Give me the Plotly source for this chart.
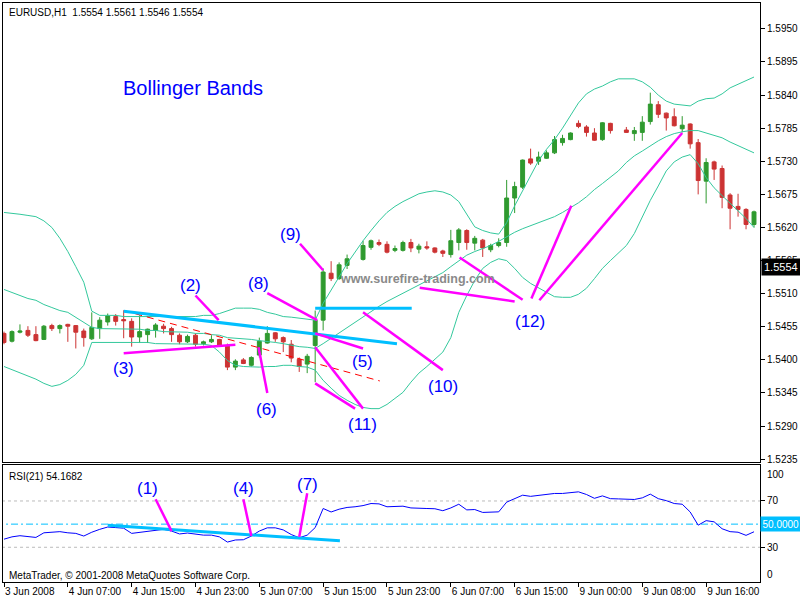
import plotly.graph_objects as go

# ---------------- data ----------------
bar_index = list(range(95))

tick_pos = [0, 8, 16, 24, 32, 40, 48, 56, 64, 72, 80, 88]
tick_text = ["3 Jun 2008", "4 Jun 07:00", "4 Jun 15:00", "4 Jun 23:00", "5 Jun 07:00",
             "5 Jun 15:00", "5 Jun 23:00", "6 Jun 07:00", "6 Jun 15:00", "9 Jun 00:00",
             "9 Jun 08:00", "9 Jun 16:00"]

price_ticks = [1.5235, 1.5290, 1.5345, 1.5400, 1.5455, 1.5510, 1.5565, 1.5620,
               1.5675, 1.5730, 1.5785, 1.5840, 1.5895, 1.5950]
price_tick_text = ["%.4f" % v for v in price_ticks]

N = None
opens = [1.5444, 1.5431, 1.5446, 1.5449, 1.5442, 1.5434, 1.5457, 1.5452, 1.5459, 1.5457,
         1.5448, 1.5435, 1.5452, 1.5463, 1.5472, 1.5467, 1.5464, 1.5438, 1.5442, 1.5449,
         1.5456, 1.5452, 1.5441, 1.5430, 1.5441, 1.5427, 1.5430, 1.5434, 1.5424, 1.5388,
         1.5400, 1.5391, 1.5408, 1.5428, 1.5445, 1.5437, 1.5426, 1.5401, 1.5393, 1.5424,
         1.5466, 1.5544, 1.5535, 1.5557, N, 1.5567, 1.5587, 1.5595, 1.5592, 1.5582,
         1.5582, 1.5595, 1.5584, 1.5588, 1.5586, 1.5581, 1.5575, 1.5595, 1.5615, 1.5594,
         1.5599, 1.5583, 1.5590, 1.5595, 1.5669, 1.5687, 1.5734, 1.5730, 1.5735, 1.5744,
         1.5761, 1.5766, 1.5793, 1.5787, 1.5777, 1.5766, 1.5793, N, 1.5782, 1.5776,
         1.5778, 1.5796, 1.5824, 1.5810, 1.5804, 1.5784, 1.5792, 1.5761, 1.5697, 1.5729,
         1.5718, 1.5674, 1.5655, 1.5650, 1.5625]
highs = [1.5447, 1.5449, 1.5459, 1.5456, 1.5456, 1.5458, 1.5460, 1.5459, 1.5460, 1.5458,
         1.5452, 1.5479, 1.5471, 1.5477, 1.5476, 1.5482, 1.5469, 1.5474, 1.5452, 1.5461,
         1.5460, 1.5455, 1.5444, 1.5442, 1.5444, 1.5432, 1.5441, 1.5435, 1.5427, 1.5401,
         1.5403, 1.5406, 1.5437, 1.5456, 1.5446, 1.5439, 1.5433, 1.5404, 1.5410, 1.5482,
         1.5552, 1.5564, 1.5562, 1.5575, N, 1.5598, 1.5600, 1.5600, 1.5597, 1.5590,
         1.5598, 1.5601, 1.5593, 1.5597, 1.5587, 1.5583, 1.5616, 1.5619, 1.5617, 1.5606,
         1.5601, 1.5593, 1.5602, 1.5699, 1.5696, 1.5733, 1.5751, 1.5746, 1.5748, 1.5772,
         1.5774, 1.5778, 1.5798, 1.5790, 1.5785, 1.5795, 1.5794, N, 1.5787, 1.5787,
         1.5805, 1.5844, 1.5830, 1.5811, 1.5818, 1.5805, 1.5793, 1.5767, 1.5735, 1.5731,
         1.5723, 1.5677, 1.5676, 1.5652, 1.5648]
lows = [1.5426, 1.5429, 1.5444, 1.5438, 1.5431, 1.5433, 1.5448, 1.5444, 1.5430, 1.5419,
        1.5422, 1.5433, 1.5435, 1.5457, 1.5457, 1.5436, 1.5422, 1.5428, 1.5428, 1.5437,
        1.5444, 1.5430, 1.5426, 1.5428, 1.5422, 1.5424, 1.5428, 1.5422, 1.5383, 1.5383,
        1.5393, 1.5389, 1.5404, 1.5427, 1.5430, 1.5413, 1.5396, 1.5380, 1.5378, 1.5363,
        1.5449, 1.5531, 1.5533, 1.5551, N, 1.5565, 1.5583, 1.5589, 1.5577, 1.5579,
        1.5580, 1.5579, 1.5577, 1.5583, 1.5577, 1.5571, 1.5570, 1.5582, 1.5583, 1.5582,
        1.5571, 1.5579, 1.5587, 1.5588, 1.5644, 1.5684, 1.5724, 1.5724, 1.5734, 1.5742,
        1.5756, 1.5765, 1.5785, 1.5771, 1.5764, 1.5764, 1.5776, N, 1.5777, 1.5764,
        1.5764, 1.5791, 1.5802, 1.5781, 1.5788, 1.5778, 1.5751, 1.5675, 1.5660, 1.5699,
        1.5652, 1.5617, 1.5638, 1.5617, 1.5620]
closes = [1.5429, 1.5447, 1.5448, 1.5441, 1.5432, 1.5456, 1.5452, 1.5457, 1.5456, 1.5446,
          1.5437, 1.5454, 1.5466, 1.5473, 1.5464, 1.5465, 1.5438, 1.5447, 1.5451, 1.5458,
          1.5452, 1.5442, 1.5430, 1.5439, 1.5426, 1.5430, 1.5434, 1.5424, 1.5388, 1.5398,
          1.5394, 1.5404, 1.5431, 1.5444, 1.5435, 1.5430, 1.5403, 1.5389, 1.5406, 1.5466,
          1.5546, 1.5535, 1.5558, 1.5568, N, 1.5590, 1.5598, 1.5592, 1.5579, 1.5585,
          1.5595, 1.5586, 1.5589, 1.5586, 1.5579, 1.5577, 1.5598, 1.5616, 1.5595, 1.5602,
          1.5586, 1.5590, 1.5595, 1.5669, 1.5688, 1.5732, 1.5727, 1.5737, 1.5744, 1.5766,
          1.5768, 1.5777, 1.5788, 1.5778, 1.5765, 1.5794, 1.5781, N, 1.5778, 1.5781,
          1.5795, 1.5825, 1.5808, 1.5802, 1.5789, 1.5790, 1.5759, 1.5698, 1.5728, 1.5717,
          1.5670, 1.5652, 1.5650, 1.5625, 1.5646]

bb_upper = [1.5645, 1.5644, 1.5642, 1.5640, 1.5638, 1.5631, 1.5620, 1.5602, 1.5580, 1.5555,
            1.5529, 1.5481, 1.5474, 1.5474, 1.5474, 1.5472, 1.5472, 1.5472, 1.5472, 1.5472,
            1.5472, 1.5472, 1.5472, 1.5472, 1.5472, 1.5474, 1.5474, 1.5477, 1.5482, 1.5486,
            1.5486, 1.5486, 1.5484, 1.5479, 1.5476, 1.5472, 1.5471, 1.5469, 1.5467, 1.5466,
            1.5494, 1.5515, 1.5538, 1.5560, 1.5580, 1.5598, 1.5615, 1.5631, 1.5645, 1.5655,
            1.5663, 1.5669, 1.5676, 1.5679, 1.5681, 1.5679, 1.5674, 1.5663, 1.5643, 1.5621,
            1.5615, 1.5611, 1.5609, 1.5628, 1.5656, 1.5681, 1.5706, 1.5731, 1.5750, 1.5766,
            1.5785, 1.5805, 1.5827, 1.5842, 1.5850, 1.5855, 1.5862, 1.5867, 1.5867, 1.5867,
            1.5862, 1.5853, 1.5840, 1.5830, 1.5825, 1.5824, 1.5822, 1.5830, 1.5834, 1.5835,
            1.5842, 1.5852, 1.5858, 1.5865, 1.5870]
bb_middle = [1.5517, 1.5512, 1.5507, 1.5502, 1.5499, 1.5492, 1.5487, 1.5482, 1.5479, 1.5471,
             1.5462, 1.5454, 1.5452, 1.5452, 1.5452, 1.5451, 1.5451, 1.5451, 1.5449, 1.5449,
             1.5447, 1.5447, 1.5446, 1.5446, 1.5444, 1.5444, 1.5442, 1.5441, 1.5437, 1.5436,
             1.5436, 1.5434, 1.5432, 1.5431, 1.5429, 1.5427, 1.5424, 1.5422, 1.5421, 1.5419,
             1.5427, 1.5436, 1.5444, 1.5454, 1.5462, 1.5471, 1.5481, 1.5489, 1.5497, 1.5504,
             1.5510, 1.5517, 1.5524, 1.5532, 1.5539, 1.5545, 1.5555, 1.5565, 1.5574, 1.5580,
             1.5585, 1.5590, 1.5597, 1.5605, 1.5612, 1.5618, 1.5623, 1.5628, 1.5633, 1.5638,
             1.5645, 1.5653, 1.5661, 1.5671, 1.5683, 1.5693, 1.5703, 1.5714, 1.5728, 1.5739,
             1.5747, 1.5756, 1.5764, 1.5771, 1.5776, 1.5779, 1.5781, 1.5781, 1.5777, 1.5774,
             1.5769, 1.5762, 1.5756, 1.5749, 1.5744]
bb_lower = [1.5389, 1.5384, 1.5379, 1.5374, 1.5368, 1.5361, 1.5356, 1.5359, 1.5366, 1.5376,
            1.5391, 1.5429, 1.5429, 1.5429, 1.5429, 1.5429, 1.5429, 1.5429, 1.5429, 1.5427,
            1.5427, 1.5427, 1.5427, 1.5427, 1.5426, 1.5426, 1.5424, 1.5413, 1.5399, 1.5391,
            1.5389, 1.5388, 1.5388, 1.5389, 1.5389, 1.5391, 1.5391, 1.5389, 1.5388, 1.5383,
            1.5366, 1.5353, 1.5341, 1.5333, 1.5326, 1.5321, 1.5319, 1.5319, 1.5326, 1.5336,
            1.5346, 1.5363, 1.5378, 1.5389, 1.5401, 1.5413, 1.5437, 1.5479, 1.5507, 1.5532,
            1.5552, 1.5562, 1.5568, 1.5565, 1.5552, 1.5537, 1.5527, 1.5520, 1.5512, 1.5505,
            1.5504, 1.5504, 1.5509, 1.5519, 1.5535, 1.5552, 1.5565, 1.5577, 1.5590, 1.5610,
            1.5638, 1.5665, 1.5689, 1.5714, 1.5729, 1.5737, 1.5741, 1.5726, 1.5703, 1.5686,
            1.5673, 1.5660, 1.5648, 1.5635, 1.5620]

rsi = [37, 39, 40, 39.5, 38.5, 42.5, 43, 43.5, 42.5, 42,
       39.7, 43, 45.5, 47.5, 47, 46.5, 42, 43, 43.5, 45,
       45.5, 44, 41.5, 42.3, 41.5, 40.5, 40.5, 39, 34.5, 36.3,
       36.5, 39.7, 44, 46.8, 46.8, 45, 41, 38.2, 40.5, 47,
       63.5, 60.5, 62.9, 64.4, 65, 66, 67.8, 67.5, 65, 65,
       65.5, 64, 63.5, 63.5, 63.3, 61.6, 64, 67.2, 62.3, 62.6,
       60.1, 60.3, 60.6, 69, 72, 75, 74, 75, 75.8, 76.5,
       76.5, 77, 77.9, 75.6, 72.3, 74.4, 72, 71.8, 71.5, 71.3,
       72.7, 75.9, 72, 70.3, 67.8, 67.2, 60.5, 49.1, 53, 52,
       46, 43.5, 43, 40.3, 43.4]
rsi_levels = [30, 50, 70]

# hand-drawn annotation segments (bar index, price)
mag_x0 = [24.0, 15.0, 31.9, 39.0, 39.0, 39.0, 33.0, 37.1, 45.0, 52.1, 57.1, 66.1, 67.1]
mag_y0 = [1.5507, 1.5411, 1.5421, 1.5444, 1.5421, 1.5361, 1.5511, 1.5593, 1.5479, 1.5520, 1.5570, 1.5502, 1.5499]
mag_x1 = [26.9, 29.0, 33.0, 45.0, 45.0, 44.0, 39.25, 40.0, 55.0, 64.0, 65.0, 71.1, 85.0]
mag_y1 = [1.5466, 1.5425, 1.5345, 1.5419, 1.5319, 1.5319, 1.5466, 1.5549, 1.5383, 1.5497, 1.5500, 1.5656, 1.5777]

cyan_x0 = [15.0, 39.0]
cyan_y0 = [1.5481, 1.5486]
cyan_x1 = [49.25, 51.1]
cyan_y1 = [1.5427, 1.5486]

red_dash_x = [15.0, 47.1]
red_dash_y = [1.5482, 1.5365]

rsi_mag_x0 = [19.0, 30.0, 38.0]
rsi_mag_y0 = [71.5, 71.5, 76.6]
rsi_mag_x1 = [21.0, 31.0, 37.0]
rsi_mag_y1 = [44.0, 39.7, 39.0]
rsi_cyan_x = [13.0, 42.1]
rsi_cyan_y = [49.1, 35.6]

label_text = ["(2)", "(3)", "(6)", "(5)", "(11)", "(8)", "(9)", "(10)", "(12)"]
label_x = [23.4, 15.0, 32.9, 44.9, 44.9, 31.9, 35.9, 55.0, 65.9]
label_y = [1.5523, 1.5386, 1.5317, 1.5398, 1.5292, 1.5527, 1.5608, 1.5356, 1.5464]
rsi_label_text = ["(1)", "(4)", "(7)"]
rsi_label_x = [18.0, 30.0, 38.0]
rsi_label_y = [80.5, 80.5, 84.5]

# ---------------- styling ----------------
GREEN = "#2F9A2F"
RED = "#CC3333"
BAND = "#33C89C"
MAGENTA = "#FF00FF"
CYAN = "#00BFFF"
FONT = "Liberation Sans, Arial, sans-serif"

fig = go.Figure()

for band in (bb_upper, bb_middle, bb_lower):
    fig.add_trace(go.Scatter(x=bar_index, y=band, mode="lines", xaxis="x2", yaxis="y2",
                             line=dict(color=BAND, width=1), hoverinfo="skip", showlegend=False))

fig.add_trace(go.Candlestick(x=bar_index, open=opens, high=highs, low=lows, close=closes,
                             xaxis="x2", yaxis="y2",
                             increasing=dict(line=dict(color=GREEN, width=1), fillcolor=GREEN),
                             decreasing=dict(line=dict(color=RED, width=1), fillcolor=RED),
                             whiskerwidth=0, hoverinfo="skip", showlegend=False))

# red dashed trendline
fig.add_trace(go.Scatter(x=red_dash_x, y=red_dash_y, mode="lines", xaxis="x2", yaxis="y2",
                         line=dict(color="#FF0000", width=1, dash="7px,5px"),
                         hoverinfo="skip", showlegend=False))

# RSI levels
for lv in rsi_levels:
    if lv == 50:
        ln = dict(color=CYAN, width=1, dash="7px,3px,2px,3px")
    else:
        ln = dict(color="#BBBBBB", width=1, dash="3px,3px")
    fig.add_trace(go.Scatter(x=[bar_index[0] - 1, bar_index[-1] + 1], y=[lv, lv], mode="lines",
                             line=ln, hoverinfo="skip", showlegend=False))

fig.add_trace(go.Scatter(x=bar_index, y=rsi, mode="lines", line=dict(color="#0000FF", width=1),
                         hoverinfo="skip", showlegend=False))

shapes = []
for a, b, c, d in zip(cyan_x0, cyan_y0, cyan_x1, cyan_y1):
    shapes.append(dict(type="line", xref="x2", yref="y2", x0=a, y0=b, x1=c, y1=d,
                       line=dict(color=CYAN, width=3)))
for a, b, c, d in zip(mag_x0, mag_y0, mag_x1, mag_y1):
    shapes.append(dict(type="line", xref="x2", yref="y2", x0=a, y0=b, x1=c, y1=d,
                       line=dict(color=MAGENTA, width=2.5)))
shapes.append(dict(type="line", xref="x", yref="y", x0=rsi_cyan_x[0], y0=rsi_cyan_y[0],
                   x1=rsi_cyan_x[1], y1=rsi_cyan_y[1], line=dict(color=CYAN, width=3)))
for a, b, c, d in zip(rsi_mag_x0, rsi_mag_y0, rsi_mag_x1, rsi_mag_y1):
    shapes.append(dict(type="line", xref="x", yref="y", x0=a, y0=b, x1=c, y1=d,
                       line=dict(color=MAGENTA, width=2.5)))

ann = []
for t, x, y in zip(label_text, label_x, label_y):
    ann.append(dict(text=t, x=x, y=y, xref="x2", yref="y2", showarrow=False,
                    font=dict(family=FONT, size=17, color="#0000FF")))
for t, x, y in zip(rsi_label_text, rsi_label_x, rsi_label_y):
    ann.append(dict(text=t, x=x, y=y, xref="x", yref="y", showarrow=False,
                    font=dict(family=FONT, size=17, color="#0000FF")))

ann += [
    dict(text="EURUSD,H1  1.5554 1.5561 1.5546 1.5554", xref="paper", yref="paper", x=0, y=1,
         xanchor="left", yanchor="top", xshift=4, yshift=-2, showarrow=False,
         font=dict(family=FONT, size=10, color="black")),
    dict(text="Bollinger Bands", xref="paper", yref="paper", x=0.1565, y=0.8534,
         xanchor="left", yanchor="middle", showarrow=False,
         font=dict(family=FONT, size=20, color="#0000FF")),
    dict(text="<b>www.surefire-trading.com</b>", xref="paper", yref="paper", x=0.4427, y=0.5241,
         xanchor="left", yanchor="middle", showarrow=False,
         font=dict(family=FONT, size=12.5, color="#8A8A8A")),
    dict(text="RSI(21) 54.1682", xref="paper", yref="paper", x=0.0053, y=0.1828,
         xanchor="left", yanchor="middle", showarrow=False,
         font=dict(family=FONT, size=10, color="black")),
    dict(text="MetaTrader, \u00a9 2001-2008 MetaQuotes Software Corp.", xref="paper", yref="paper",
         x=0.0053, y=0.012, xanchor="left", yanchor="middle", showarrow=False,
         font=dict(family=FONT, size=10, color="black")),
    dict(text="1.5554", xref="paper", yref="y2", x=1, y=1.5554, xanchor="left", yanchor="middle",
         xshift=1, showarrow=False, bgcolor="black", borderpad=2,
         font=dict(family=FONT, size=11, color="white")),
    dict(text="50.0000", xref="paper", yref="y", x=1, y=50, xanchor="left", yanchor="middle",
         xshift=0, showarrow=False, bgcolor=CYAN, borderpad=1.5,
         font=dict(family=FONT, size=10, color="white")),
    dict(text="100", xref="paper", yref="y", x=1, y=100, xanchor="left", yanchor="top",
         xshift=5, yshift=-1, showarrow=False, font=dict(family=FONT, size=10, color="black")),
    dict(text="0", xref="paper", yref="y", x=1, y=0, xanchor="left", yanchor="bottom",
         xshift=5, yshift=0, showarrow=False, font=dict(family=FONT, size=10, color="black")),
]

axis_common = dict(showgrid=False, zeroline=False, showline=True, linecolor="black",
                   linewidth=1, mirror=True)

fig.update_layout(
    width=800, height=600,
    margin=dict(l=2, r=39, t=2, b=18),
    paper_bgcolor="white", plot_bgcolor="white",
    showlegend=False, boxgap=0.3,
    shapes=shapes, annotations=ann,
    font=dict(family=FONT, size=10, color="black"),
    xaxis=dict(domain=[0, 1], anchor="y", range=[-0.125, 94.75], tickmode="array",
               tickvals=tick_pos, ticktext=tick_text, ticks="outside", ticklen=4,
               tickcolor="black", ticklabelposition="outside right",
               tickfont=dict(family=FONT, size=10, color="black"),
               rangeslider=dict(visible=False), **axis_common),
    xaxis2=dict(domain=[0, 1], anchor="y2", matches="x", showticklabels=False,
                rangeslider=dict(visible=False), **axis_common),
    yaxis=dict(domain=[0, 0.2017], anchor="x", side="right", range=[0, 100.9],
               tickmode="array", tickvals=[30, 70], ticktext=["30", "70"], ticks="outside",
               ticklen=4, tickcolor="black", tickfont=dict(family=FONT, size=10, color="black"),
               **axis_common),
    yaxis2=dict(domain=[0.2069, 1], anchor="x2", side="right", range=[1.5230, 1.5993],
                tickmode="array", tickvals=price_ticks, ticktext=price_tick_text,
                ticks="outside", ticklen=4, tickcolor="black",
                tickfont=dict(family=FONT, size=10, color="black"), **axis_common),
)

fig.write_html("out.html", config={"displayModeBar": False},
               post_script="document.body.style.margin='0';document.body.style.overflow='hidden';")
